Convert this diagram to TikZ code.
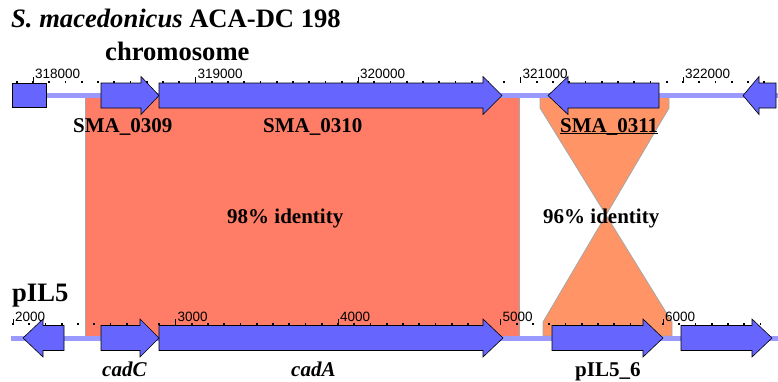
\documentclass[tikz,border=0pt]{standalone}
\usepackage{fontspec}
\setmainfont{Liberation Serif}
\setsansfont{Liberation Sans}
\usepackage{xcolor}
\definecolor{genefill}{RGB}{102,102,255}
\definecolor{backbone}{RGB}{153,153,255}
\definecolor{hitred}{RGB}{255,125,102}
\definecolor{hitorange}{RGB}{255,148,102}
\tikzset{
  gene/.style={
    draw=black,
    line width=0.6pt,
    fill=genefill,
    line join=miter
  },
  track/.style={draw=backbone, line width=5pt},
  hitred/.style={fill=hitred, draw=gray!70, line width=0.8pt},
  hitorange/.style={fill=hitorange, draw=gray!70, line width=0.8pt},
  majortick/.style={draw=black, line width=1pt},
  scalelabel/.style={
    font=\sffamily\fontsize{13.5}{15}\selectfont,
    anchor=base west,
    inner sep=0pt
  },
  genelabel/.style={
    font=\bfseries\fontsize{21}{24}\selectfont,
    anchor=base west,
    inner sep=0pt
  },
  heading/.style={
    font=\bfseries\fontsize{26.6}{30}\selectfont,
    anchor=base west,
    inner sep=0pt
  }
}

\begin{document}
\begin{tikzpicture}[x=1pt, y=-1pt]
  \useasboundingbox (0,0) rectangle (778,381);

  % similarity regions
  \path[hitred] (85,97) rectangle (519,336);
  \path[hitorange] (540,97) -- (669,97) -- (669,108) -- (543,322) -- (543,336)
    -- (672,336) -- (672,322) -- (540,108) -- cycle;

  % backbones
  \draw[track] (46,95.5) -- (778,95.5);
  \draw[track] (11,338) -- (778,338);

  % scales
  \foreach \i in {0,...,46} {
    \fill ({16.75+16.25*\i-0.8},81.2) rectangle +(1.6,1.6);
    \fill ({13+16.25*\i-0.8},323.2) rectangle +(1.6,1.6);
  }
  \foreach \k/\lab in {0/318000, 1/319000, 2/320000, 3/321000, 4/322000} {
    \draw[majortick] ({33+162.5*\k},77) -- ++(0,6);
    \node[scalelabel] (top\k) at ({35+162.5*\k},78) {\lab};
  }
  \foreach \k/\lab in {0/2000, 1/3000, 2/4000, 3/5000, 4/6000} {
    \draw[majortick] ({13+162.5*\k},319) -- ++(0,6);
    \node[scalelabel] (bot\k) at ({15+162.5*\k},321) {\lab};
  }

  % genes
  \draw[gene] (12,83) rectangle (46,107.5);
  \foreach \a/\h/\b/\y in {101/141/159/95.5, 159/483/502/95.5,
      101/140/159/338, 159/483/503/338, 552/643/663/338, 681/752/772/338} {
    \draw[gene] (\a,{\y-12.5}) -- (\h,{\y-12.5}) -- (\h,{\y-19}) -- (\b,\y)
      -- (\h,{\y+19}) -- (\h,{\y+12.5}) -- (\a,{\y+12.5}) -- cycle;
  }
  \foreach \a/\h/\b/\y in {548/568/659/95.5, 743/759/776/95.5, 23/43/64/338} {
    \draw[gene] (\b,{\y-12.5}) -- (\h,{\y-12.5}) -- (\h,{\y-19}) -- (\a,\y)
      -- (\h,{\y+19}) -- (\h,{\y+12.5}) -- (\b,{\y+12.5}) -- cycle;
  }

  % titles
  \node[heading] (species) at (11,27) {\textit{S. macedonicus} ACA-DC 198};
  \node[heading] (chrom) at (105,60) {chromosome};
  \node[heading] (plasmid) at (12,301) {pIL5};

  % gene names
  \node[genelabel] (sma309) at (73,132) {SMA\_0309};
  \node[genelabel] (sma310) at (263,132) {SMA\_0310};
  \node[genelabel] (sma311) at (560,132) {SMA\_0311};
  \draw[line width=1.2pt] ([yshift=-1.5pt]sma311.base west) -- ([yshift=-1.5pt]sma311.base east);
  \node[genelabel] (cadC) at (102,376) {\textit{cadC}};
  \node[genelabel] (cadA) at (291,376) {\textit{cadA}};
  \node[genelabel] (pil6) at (575,376) {pIL5\_6};

  % identities
  \node[genelabel] (id98) at (227,223) {98\% identity};
  \node[genelabel] (id96) at (543,223) {96\% identity};
\end{tikzpicture}
\end{document}
